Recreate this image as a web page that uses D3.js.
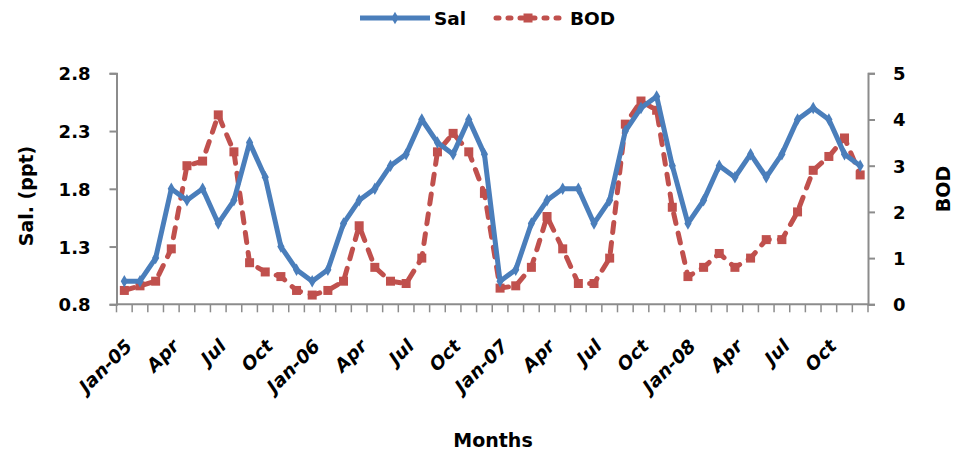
<!DOCTYPE html>
<html>
<head>
<meta charset="utf-8">
<script src="https://cdn.jsdelivr.net/npm/d3@7"></script>
<style>
  html, body { margin: 0; padding: 0; background: #fff; }
  text { font-family: "DejaVu Sans", sans-serif; font-weight: bold; fill: #000; }
</style>
</head>
<body>
<svg id="chart" width="954" height="455"></svg>
<script>
const months = ["Jan-05","Feb-05","Mar-05","Apr-05","May-05","Jun-05","Jul-05","Aug-05","Sep-05","Oct-05","Nov-05","Dec-05",
  "Jan-06","Feb-06","Mar-06","Apr-06","May-06","Jun-06","Jul-06","Aug-06","Sep-06","Oct-06","Nov-06","Dec-06",
  "Jan-07","Feb-07","Mar-07","Apr-07","May-07","Jun-07","Jul-07","Aug-07","Sep-07","Oct-07","Nov-07","Dec-07",
  "Jan-08","Feb-08","Mar-08","Apr-08","May-08","Jun-08","Jul-08","Aug-08","Sep-08","Oct-08","Nov-08","Dec-08"];
const salValues = [1.0,1.0,1.2,1.8,1.7,1.8,1.5,1.7,2.2,1.9,1.3,1.1,
  1.0,1.1,1.5,1.7,1.8,2.0,2.1,2.4,2.2,2.1,2.4,2.1,
  1.0,1.1,1.5,1.7,1.8,1.8,1.5,1.7,2.3,2.5,2.6,2.0,
  1.5,1.7,2.0,1.9,2.1,1.9,2.1,2.4,2.5,2.4,2.1,2.0];
const bodValues = [0.3,0.4,0.5,1.2,3.0,3.1,4.1,3.3,0.9,0.7,0.6,0.3,
  0.2,0.3,0.5,1.7,0.8,0.5,0.45,1.0,3.3,3.7,3.3,2.4,
  0.35,0.4,0.8,1.9,1.2,0.45,0.45,1.0,3.9,4.4,4.2,2.1,
  0.6,0.8,1.1,0.8,1.0,1.4,1.4,2.0,2.9,3.2,3.6,2.8];
const tickLabels = ["Jan-05","Apr","Jul","Oct","Jan-06","Apr","Jul","Oct","Jan-07","Apr","Jul","Oct","Jan-08","Apr","Jul","Oct"];
const salTicks = [0.8,1.3,1.8,2.3,2.8];
const bodTicks = [0,1,2,3,4,5];
const seriesNames = ["Sal","BOD"];
const axisTitles = {left:"Sal. (ppt)", right:"BOD", bottom:"Months"};

const svg = d3.select("#chart");
const L = 116.5, R = 868, T = 73.3, B = 304.3;
const blue = "#4a7ebb", red = "#c0504d", axisCol = "#8c8c8c";

const x = d3.scaleBand().domain(months).range([L, R]);
const cx = d => x(d) + x.bandwidth()/2;
const yL = d3.scaleLinear().domain([0.8, 2.8]).range([B, T]);
const yR = d3.scaleLinear().domain([0, 5]).range([B, T]);

// Axes
const gl = svg.append("g").attr("transform", `translate(${L},0)`)
  .call(d3.axisLeft(yL).tickValues(salTicks).tickFormat(d3.format(".1f")).tickSize(7).tickPadding(19));
const gr = svg.append("g").attr("transform", `translate(${R},0)`)
  .call(d3.axisRight(yR).tickValues(bodTicks).tickFormat(d3.format("d")).tickSize(7).tickPadding(18));
[gl, gr].forEach(g => {
  g.select(".domain").attr("stroke", axisCol).attr("stroke-width", 2);
  g.selectAll(".tick line").attr("stroke", axisCol).attr("stroke-width", 2);
  g.selectAll(".tick text").attr("font-size", 18).attr("font-family", "DejaVu Sans").attr("font-weight", "bold").attr("fill", "#000").attr("dy", "0.36em");
});

// bottom axis: boundary ticks
const gb = svg.append("g").attr("transform", `translate(0,${B})`);
gb.append("line").attr("x1", L).attr("x2", R).attr("y1", 0).attr("y2", 0).attr("stroke", axisCol).attr("stroke-width", 2);
const bounds = months.map(m => x(m)).concat([R]);
gb.selectAll("line.tk").data(bounds).join("line").attr("class","tk")
  .attr("x1", d => d).attr("x2", d => d).attr("y1", 0).attr("y2", 8)
  .attr("stroke", axisCol).attr("stroke-width", 1.5);
const labelMonths = months.filter((m, i) => i % 3 === 0);
gb.selectAll("text.xl").data(labelMonths).join("text").attr("class","xl")
  .attr("transform", (m) => `translate(${cx(m) + 9},${43}) rotate(-45)`)
  .attr("text-anchor", "end")
  .attr("font-size", 18.5).attr("font-style", "italic")
  .text((m, i) => tickLabels[i]);

// Axis titles
svg.append("text").attr("transform", `translate(33,196) rotate(-90)`).attr("text-anchor","middle")
  .attr("font-size", 19).text(axisTitles.left);
svg.append("text").attr("transform", `translate(950,189) rotate(-90)`).attr("text-anchor","middle")
  .attr("font-size", 19).text(axisTitles.right);
svg.append("text").attr("x", 493).attr("y", 447).attr("text-anchor","middle")
  .attr("font-size", 19).text(axisTitles.bottom);

// Lines
const salLine = d3.line().x((d, i) => cx(months[i])).y(d => yL(d));
const bodLine = d3.line().x((d, i) => cx(months[i])).y(d => yR(d));
svg.append("path").datum(bodValues).attr("d", bodLine).attr("fill","none")
  .attr("stroke", red).attr("stroke-width", 5).attr("stroke-dasharray","10,10").attr("stroke-linecap","round").attr("stroke-linejoin","round");
svg.append("g").selectAll("rect").data(bodValues).join("rect")
  .attr("x", (d,i) => cx(months[i]) - 4.5).attr("y", d => yR(d) - 4.5)
  .attr("width", 9).attr("height", 9).attr("fill", red);
svg.append("path").datum(salValues).attr("d", salLine).attr("fill","none")
  .attr("stroke", blue).attr("stroke-width", 5).attr("stroke-linejoin","round");
const diamond = d3.symbol().type(d3.symbolDiamond).size(45);
svg.append("g").selectAll("path").data(salValues).join("path")
  .attr("transform", (d,i) => `translate(${cx(months[i])},${yL(d)})`)
  .attr("d", diamond).attr("fill", blue);

// Legend
const lg = svg.append("g");
lg.append("line").attr("x1", 360).attr("x2", 430).attr("y1", 18).attr("y2", 18).attr("stroke", blue).attr("stroke-width", 5);
lg.append("path").attr("transform","translate(395,18)").attr("d", diamond).attr("fill", blue);
lg.append("text").attr("x", 434).attr("y", 25).attr("font-size", 18.5).text(seriesNames[0]);
lg.append("line").attr("x1", 496).attr("x2", 561).attr("y1", 18).attr("y2", 18).attr("stroke", red).attr("stroke-width", 5)
  .attr("stroke-dasharray","3,9").attr("stroke-linecap","round");
lg.append("rect").attr("x", 523.5).attr("y", 13.5).attr("width", 9).attr("height", 9).attr("fill", red);
lg.append("text").attr("x", 570).attr("y", 25).attr("font-size", 18.5).text(seriesNames[1]);
</script>
</body>
</html>
